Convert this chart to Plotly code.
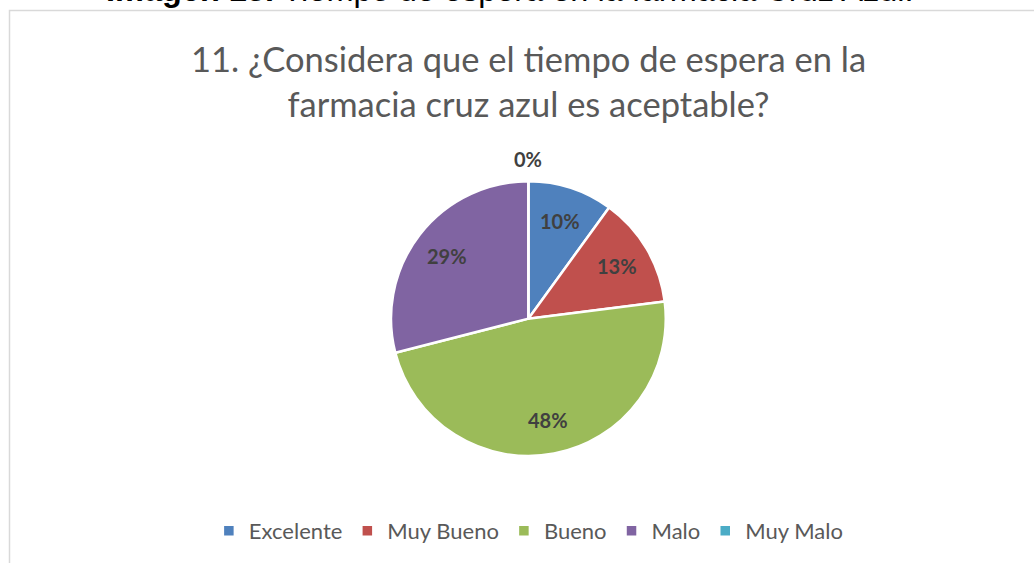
import math

import plotly.graph_objects as go

# encuesta: pregunta 11
categorias = ["Excelente", "Muy Bueno", "Bueno", "Malo", "Muy Malo"]
porcentajes = [10, 13, 48, 29, 0]
colores = ["#4F81BD", "#C0504D", "#9BBB59", "#8064A2", "#4BACC6"]

titulo = "11. ¿Considera que el tiempo de espera en la<br>farmacia cruz azul es aceptable?"
caption_bold = "Imagen 15."
caption_rest = " Tiempo de espera en la farmacia Cruz Azul."

W, H = 1034, 563
FONT = "Lato, 'Open Sans', sans-serif"
GRIS = "#595959"
DOM_X = [0.378, 0.644]
DOM_Y = [0.190, 0.678]

fig = go.Figure()
fig.add_trace(
    go.Pie(
        labels=categorias,
        values=porcentajes,
        sort=False,
        direction="clockwise",
        rotation=0,
        marker=dict(colors=colores, line=dict(color="white", width=2.5)),
        textinfo="none",
        domain=dict(x=DOM_X, y=DOM_Y),
        hoverinfo="label+percent",
        showlegend=True,
    )
)

# etiquetas de datos al estilo Excel: sobre el angulo medio de cada porcion
cx = (DOM_X[0] + DOM_X[1]) / 2 * W
cy = (DOM_Y[0] + DOM_Y[1]) / 2 * H
r = min((DOM_X[1] - DOM_X[0]) * W, (DOM_Y[1] - DOM_Y[0]) * H) / 2
total = sum(porcentajes)
acum = 0
for cat, val in zip(categorias, porcentajes):
    ang = 2 * math.pi * (acum + val / 2) / total
    acum += val
    dist = 0.75 * r if val > 0 else 1.16 * r
    px_ = cx + dist * math.sin(ang)
    py_ = cy + dist * math.cos(ang)
    fig.add_annotation(
        x=px_ / W, y=py_ / H, xref="paper", yref="paper",
        xanchor="center", yanchor="middle",
        text=f"<b>{val}%</b>", showarrow=False,
        font=dict(family=FONT, size=20, color="#404040"),
    )

fig.add_annotation(
    x=0.511, y=1 - 36 / H, xref="paper", yref="paper",
    xanchor="center", yanchor="top",
    text=titulo, showarrow=False, align="center",
    font=dict(family=FONT, size=34.5, color=GRIS),
)

fig.add_annotation(
    x=0.493, y=1 - 10 / H, xref="paper", yref="paper",
    xanchor="center", yanchor="bottom",
    text=f"<b>{caption_bold}</b>{caption_rest}", showarrow=False,
    font=dict(family="Liberation Sans, Arial", size=32.5, color="black"),
)

# marco del grafico
fig.add_shape(
    type="rect", xref="paper", yref="paper",
    x0=9.5 / W, x1=1.02, y0=-0.05, y1=1 - 10.5 / H,
    line=dict(color="#D9D9D9", width=1.5),
)

fig.update_layout(
    width=W,
    height=H,
    margin=dict(l=0, r=0, t=0, b=0),
    paper_bgcolor="white",
    plot_bgcolor="white",
    legend=dict(
        orientation="h",
        x=0.511, xanchor="center",
        y=32 / H, yanchor="middle",
        font=dict(family=FONT, size=22, color=GRIS),
        itemwidth=30,
        traceorder="normal",
    ),
)

fig.write_html(
    "out.html",
    config={"displayModeBar": False},
    post_script="document.body.style.margin='0';",
)
